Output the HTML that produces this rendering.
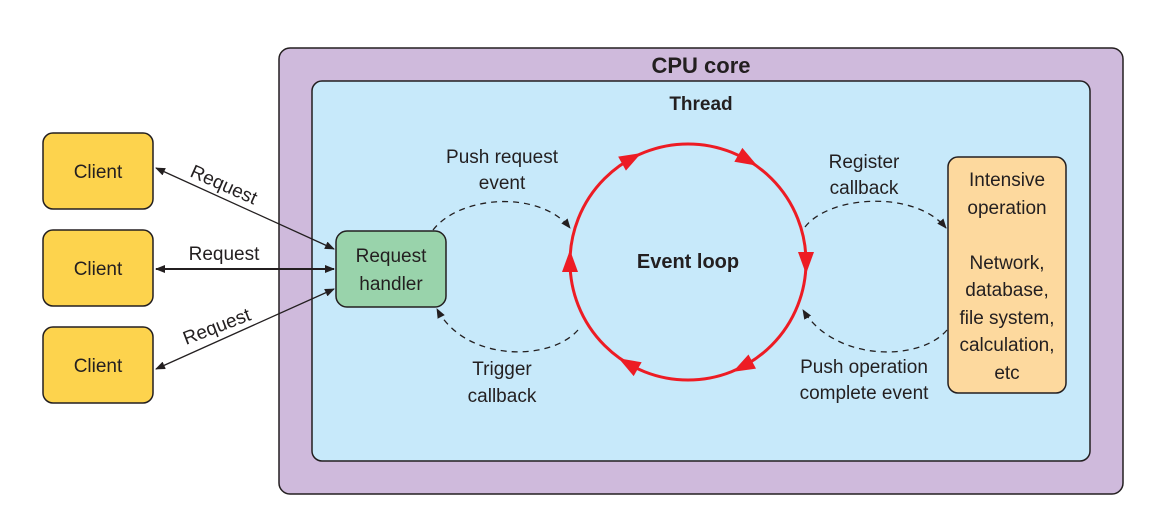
<!DOCTYPE html>
<html><head><meta charset="utf-8"><style>
html,body{margin:0;padding:0;background:#fff;}
svg{display:block;}
text{font-family:"Liberation Sans",Arial,sans-serif;fill:#231f20;}
</style></head><body>
<svg width="1166" height="519" viewBox="0 0 1166 519" xmlns="http://www.w3.org/2000/svg">
<defs>
<marker id="ah" markerWidth="10" markerHeight="8" refX="9" refY="4" orient="auto-start-reverse" markerUnits="userSpaceOnUse">
<path d="M0,0 L10,4 L0,8 Z" fill="#231f20"/></marker>
</defs>
<rect x="279" y="48" width="844" height="446" rx="11" fill="#cfbadc" stroke="#231f20" stroke-width="1.5"/>
<text x="701" y="73" font-size="22" font-weight="bold" text-anchor="middle">CPU core</text>
<rect x="312" y="81" width="778" height="380" rx="10" fill="#c7e9fa" stroke="#231f20" stroke-width="1.5"/>
<text x="701" y="110" font-size="19" font-weight="bold" text-anchor="middle">Thread</text>

<g fill="#fdd34d" stroke="#231f20" stroke-width="1.5">
<rect x="43" y="133" width="110" height="76" rx="10"/>
<rect x="43" y="230" width="110" height="76" rx="10"/>
<rect x="43" y="327" width="110" height="76" rx="10"/>
</g>
<g font-size="19" text-anchor="middle">
<text x="98" y="178">Client</text>
<text x="98" y="275">Client</text>
<text x="98" y="372">Client</text>
</g>

<rect x="336" y="231" width="110" height="76" rx="11" fill="#99d3ab" stroke="#231f20" stroke-width="1.5"/>
<text x="391" y="262" font-size="19" text-anchor="middle">Request</text>
<text x="391" y="290" font-size="19" text-anchor="middle">handler</text>

<rect x="948" y="157" width="118" height="236" rx="10" fill="#fdd99e" stroke="#231f20" stroke-width="1.5"/>
<g font-size="19" text-anchor="middle">
<text x="1007" y="186">Intensive</text>
<text x="1007" y="214">operation</text>
<text x="1007" y="269">Network,</text>
<text x="1007" y="296">database,</text>
<text x="1007" y="324">file system,</text>
<text x="1007" y="351">calculation,</text>
<text x="1007" y="379">etc</text>
</g>

<g stroke="#231f20" stroke-width="1.3" fill="none">
<line x1="156" y1="168" x2="334" y2="249" marker-start="url(#ah)" marker-end="url(#ah)"/>
<line x1="156" y1="269" x2="334" y2="269" stroke-width="2" marker-start="url(#ah)" marker-end="url(#ah)"/>
<line x1="156" y1="369" x2="334" y2="289" marker-start="url(#ah)" marker-end="url(#ah)"/>
</g>
<text font-size="19" transform="translate(189,176) rotate(24)">Request</text>
<text x="224" y="260" font-size="19" text-anchor="middle">Request</text>
<text font-size="19" transform="translate(186,345) rotate(-21)">Request</text>

<g stroke="#231f20" stroke-width="1.3" fill="none" stroke-dasharray="6,5">
<path d="M433,230 C460,195 540,190 570,228" marker-end="url(#ah)"/>
<path d="M578,330 C550,362 465,362 437,309" marker-end="url(#ah)"/>
<path d="M805,227 C830,195 915,190 946,228" marker-end="url(#ah)"/>
<path d="M947,330 C920,362 835,362 803,310" marker-end="url(#ah)"/>
</g>
<g font-size="19" text-anchor="middle">
<text x="502" y="163">Push request</text>
<text x="502" y="189">event</text>
<text x="502" y="375">Trigger</text>
<text x="502" y="402">callback</text>
<text x="864" y="168">Register</text>
<text x="864" y="194">callback</text>
<text x="864" y="373">Push operation</text>
<text x="864" y="399">complete event</text>
</g>

<circle cx="688" cy="262" r="118" fill="none" stroke="#ed1c24" stroke-width="3"/>
<g fill="#ed1c24">
<polygon points="12,0 -10,-8 -10,8" transform="translate(630.8,158.8) rotate(331)"/>
<polygon points="12,0 -10,-8 -10,8" transform="translate(747,159.8) rotate(30)"/>
<polygon points="12,0 -10,-8 -10,8" transform="translate(806,262) rotate(90)"/>
<polygon points="12,0 -10,-8 -10,8" transform="translate(743.4,366.2) rotate(152)"/>
<polygon points="12,0 -10,-8 -10,8" transform="translate(629,364.2) rotate(210)"/>
<polygon points="12,0 -10,-8 -10,8" transform="translate(570,262) rotate(270)"/>
</g>
<text x="688" y="268" font-size="20" font-weight="bold" text-anchor="middle">Event loop</text>
</svg>
</body></html>
